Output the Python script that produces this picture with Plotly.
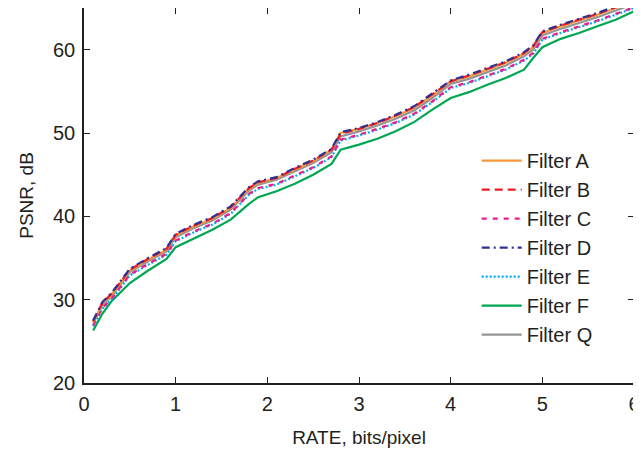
import plotly.graph_objects as go

rate = [0.1, 0.2, 0.3, 0.5, 0.7, 0.9, 1.0, 1.2, 1.4, 1.6, 1.8, 1.9, 2.1, 2.3, 2.5, 2.7, 2.8,
        3.0, 3.2, 3.4, 3.6, 3.8, 4.0, 4.2, 4.4, 4.6, 4.8, 4.9, 5.0, 5.2, 5.4, 5.6, 5.8, 6.0]

psnr_a = [27.3, 29.5, 30.6, 33.5, 34.8, 36.0, 37.7, 38.8, 39.7, 41.0, 43.3, 44.0, 44.6, 45.6, 46.6, 48.0, 50.0,
          50.5, 51.2, 52.0, 53.0, 54.5, 56.2, 56.8, 57.6, 58.4, 59.5, 60.3, 62.0, 62.8, 63.5, 64.2, 65.0, 65.8]
psnr_b = [27.4, 29.6, 30.7, 33.6, 34.9, 36.1, 37.8, 38.9, 39.8, 41.1, 43.4, 44.1, 44.6, 45.7, 46.7, 48.0, 49.9,
          50.5, 51.2, 52.1, 53.1, 54.6, 56.2, 56.9, 57.7, 58.5, 59.6, 60.4, 62.1, 62.9, 63.6, 64.3, 65.1, 65.9]
psnr_c = [26.9, 29.0, 30.1, 33.0, 34.3, 35.5, 37.1, 38.2, 39.1, 40.4, 42.7, 43.4, 43.9, 44.9, 45.9, 47.2, 49.2,
          49.8, 50.5, 51.3, 52.3, 53.8, 55.5, 56.1, 56.9, 57.7, 58.8, 59.6, 61.3, 62.1, 62.8, 63.5, 64.3, 65.1]
psnr_d = [27.5, 29.7, 30.8, 33.7, 35.0, 36.2, 37.9, 39.0, 39.9, 41.2, 43.5, 44.2, 44.7, 45.8, 46.8, 48.1, 50.1,
          50.6, 51.3, 52.2, 53.2, 54.7, 56.3, 57.0, 57.8, 58.6, 59.7, 60.5, 62.2, 63.0, 63.7, 64.4, 65.2, 66.0]
psnr_e = [26.8, 28.9, 30.0, 32.9, 34.2, 35.4, 37.0, 38.1, 39.0, 40.3, 42.6, 43.3, 43.8, 44.8, 45.8, 47.1, 49.1,
          49.7, 50.4, 51.2, 52.2, 53.7, 55.4, 56.0, 56.8, 57.6, 58.7, 59.5, 61.2, 62.0, 62.7, 63.4, 64.2, 65.0]
psnr_f = [26.3, 28.3, 29.8, 32.0, 33.5, 34.9, 36.3, 37.3, 38.4, 39.6, 41.5, 42.3, 43.0, 43.9, 45.0, 46.3, 48.0,
          48.6, 49.3, 50.2, 51.3, 52.8, 54.2, 54.9, 55.8, 56.6, 57.6, 59.0, 60.3, 61.3, 62.0, 62.8, 63.6, 64.6]
psnr_q = [27.2, 29.3, 30.4, 33.3, 34.6, 35.8, 37.5, 38.6, 39.5, 40.8, 43.1, 43.8, 44.4, 45.4, 46.4, 47.7, 49.6,
          50.2, 50.9, 51.7, 52.7, 54.2, 55.9, 56.5, 57.3, 58.1, 59.2, 60.0, 61.7, 62.5, 63.2, 63.9, 64.7, 65.5]

names = ["Filter A", "Filter B", "Filter C", "Filter D", "Filter E", "Filter F", "Filter Q"]
series = [psnr_a, psnr_b, psnr_c, psnr_d, psnr_e, psnr_f, psnr_q]
colors = ["#F7963C", "#ED1C24", "#EC1C8C", "#2E3192", "#00AEEF", "#00A651", "#939598"]
dashes = ["solid", "8px,5px", "5px,6px", "8px,4px,2px,4px", "2px,2px", "solid", "solid"]

fig = go.Figure()
# Q and F go first so the dashed coloured lines sit on top
order = [6, 5, 4, 2, 0, 1, 3]
for i in order:
    fig.add_trace(go.Scatter(x=rate, y=series[i], name=names[i], mode="lines",
                             line=dict(color=colors[i], width=2.2, dash=dashes[i]),
                             legendrank=i + 1))

axis = dict(showline=True, linecolor="#231F20", linewidth=1.5, mirror="ticks",
            ticks="inside", ticklen=6, tickwidth=1.2, tickcolor="#231F20",
            showgrid=False, zeroline=False, automargin=False,
            ticklabeloverflow="allow",
            tickfont=dict(size=20, color="#231F20"),
            title_font=dict(size=19, color="#231F20"))

fig.update_xaxes(range=[0, 6], dtick=1, title_text="RATE, bits/pixel", title_standoff=17,
                 ticklabelstandoff=2, **axis)
fig.update_yaxes(range=[20, 65], tickvals=[20, 30, 40, 50, 60], title_text="PSNR, dB",
                 title_standoff=14, ticklabelstandoff=3, **axis)

# the page body adds an 8px offset, so the figure is sized to fit inside it
fig.update_layout(
    width=633, height=447,
    margin=dict(l=76, r=7, t=0, b=72),
    paper_bgcolor="white", plot_bgcolor="white",
    font=dict(family="Liberation Sans, Arial, sans-serif", color="#231F20"),
    legend=dict(x=0.714, y=0.645, xanchor="left", yanchor="top",
                bgcolor="rgba(0,0,0,0)", font=dict(size=20),
                traceorder="normal", itemwidth=40),
)

fig.write_html("out.html")
